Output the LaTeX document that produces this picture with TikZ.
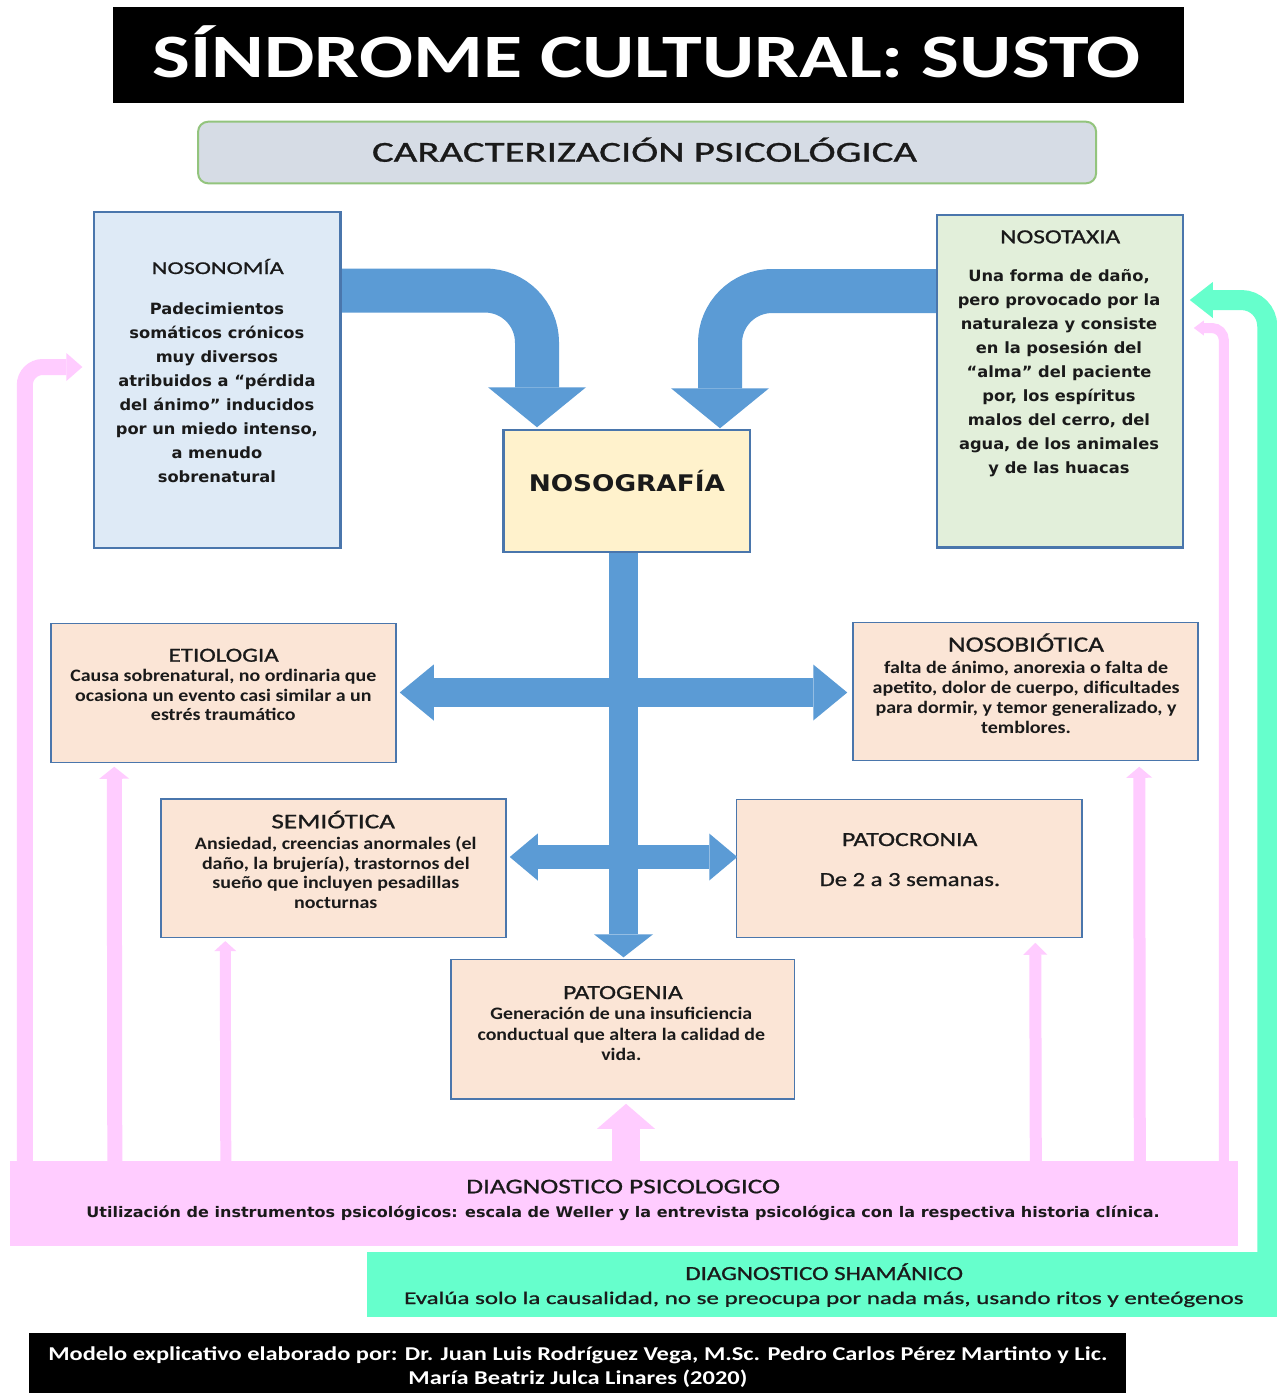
\documentclass[tikz,border=0pt]{standalone}
\usepackage{fontspec}
\usepackage{graphicx}
\setmainfont{Carlito}
\newfontfamily\dvs{DejaVu Sans}
\newfontfamily\calm[FakeBold=0.8]{Carlito}
\usetikzlibrary{arrows.meta,calc}
\definecolor{peach}{HTML}{FBE5D6}
\definecolor{lblue}{HTML}{DEEAF6}
\definecolor{lgreen}{HTML}{E2EFDA}
\definecolor{lyellow}{HTML}{FFF2CC}
\definecolor{boxline}{HTML}{4A76AC}
\definecolor{subfill}{HTML}{D6DCE5}
\definecolor{subline}{HTML}{93C47D}
\definecolor{arrblue}{HTML}{5B9BD5}
\definecolor{pinkc}{HTML}{FFCCFF}
\definecolor{greenc}{HTML}{66FFCC}
\definecolor{txt}{HTML}{1A1A1A}
\newcommand\fitw[2]{\resizebox{#1}{\height}{#2}}
\begin{document}
\begin{tikzpicture}[x=1pt,y=-1pt,
  boxs/.style={draw=boxline,line width=1.5pt,inner sep=0pt},
  hd/.style={inner sep=0pt,text=txt,anchor=base,font=\calm\fontsize{#1}{24}\selectfont},
  hd/.default=20,
  bodyc/.style={inner sep=0pt,text=txt,anchor=north,font=\bfseries\fontsize{17.5}{#1}\selectfont},
  bodyd/.style={inner sep=0pt,text=txt,anchor=north,font=\dvs\bfseries\fontsize{15.5}{24}\selectfont},
  bluearr/.style={draw=arrblue},
  pk/.style={draw=pinkc},
  gr/.style={draw=greenc},
]
\useasboundingbox (0,0) rectangle (1277,1393);
\fill[white] (0,0) rectangle (1277,1393);

% title and subtitle
\node[fill=black,inner sep=0pt,minimum width=1071pt,minimum height=96pt] (title) at (648.5,55.3) {};
\node[inner sep=0pt,text=white,anchor=base,font=\bfseries\fontsize{61.7}{70}\selectfont] (titleT) at (646.5,77) {\fitw{988pt}{SÍNDROME CULTURAL: SUSTO}};
\node[fill=subfill,draw=subline,line width=2pt,rounded corners=10pt,inner sep=0pt,minimum width=898pt,minimum height=61.6pt] (sub) at (647.1,152.5) {};
\node[inner sep=0pt,text=txt,anchor=base,font=\calm\fontsize{29}{34}\selectfont] (subT) at (644.5,161.7) {\fitw{545pt}{CARACTERIZACIÓN PSICOLÓGICA}};

% boxes
\node[boxs,fill=lblue,minimum width=246pt,minimum height=335pt] (nosonomia) at (217,379.8) {};
\node[boxs,fill=lgreen,minimum width=245.3pt,minimum height=332pt] (nosotaxia) at (1060.2,381) {};
\node[boxs,fill=lyellow,minimum width=245.5pt,minimum height=121pt] (nosog) at (626.5,491.2) {};
\node[boxs,fill=peach,minimum width=345pt,minimum height=139.4pt] (etio) at (223.5,693) {};
\node[boxs,fill=peach,minimum width=345pt,minimum height=138.4pt] (nosobio) at (1025.5,691.5) {};
\node[boxs,fill=peach,minimum width=345pt,minimum height=138.3pt] (semi) at (333.5,868.2) {};
\node[boxs,fill=peach,minimum width=345.2pt,minimum height=138pt] (patocr) at (909.3,868.3) {};
\node[boxs,fill=peach,minimum width=343.5pt,minimum height=139.7pt] (patog) at (622.8,1029.2) {};

% blue block arrows
\draw[bluearr,line width=44pt,rounded corners=52pt,-{Triangle[length=40pt,width=98pt,line width=0pt]}]
  ($(nosonomia.east)+(0,-89.3)$) -| ($(nosog.north)+(-89.5,-2.7)$);
\draw[bluearr,line width=44pt,rounded corners=52pt,-{Triangle[length=40pt,width=98pt,line width=0pt]}]
  ($(nosotaxia.west)+(0,-90)$) -| ($(nosog.north)+(93.5,-1.7)$);
\draw[bluearr,line width=29pt,-{Triangle[length=23pt,width=59pt,line width=0pt]}]
  ($(nosog.south)+(-3,0.8)$) -- ($(patog.north)+(0.7,-1.3)$);
\draw[bluearr,line width=29pt,{Triangle[length=34pt,width=56pt,line width=0pt]}-{Triangle[length=34pt,width=56pt,line width=0pt]}]
  ($(etio.east)+(3,-0.5)$) -- ($(nosobio.west)+(-5,1)$);
\draw[bluearr,line width=24pt,{Triangle[length=28pt,width=47pt,line width=0pt]}-{Triangle[length=28pt,width=47pt,line width=0pt]}]
  ($(semi.east)+(3,-11.2)$) -- ($(patocr.west)+(1.3,-11.3)$);

% pink and green boxes
\node[fill=pinkc,inner sep=0pt,minimum width=1228pt,minimum height=84.7pt] (diag) at (624,1203.3) {};
\node[fill=greenc,inner sep=0pt,minimum width=909.7pt,minimum height=64.4pt] (gbox) at (822.2,1284.5) {};

% pink arrows
\draw[pk,line width=16pt,rounded corners=18pt,-{Triangle[length=16pt,width=28pt,line width=0pt]}]
  ($(diag.north west)+(15,1)$) |- ($(nosonomia.west)+(-10.9,-12.8)$);
\draw[pk,line width=15pt,-{Triangle[length=12pt,width=30pt,line width=0pt]}]
  ($(diag.north west)+(105,1)$) -- ($(etio.south west)+(64,3.3)$);
\draw[pk,line width=11pt,-{Triangle[length=10pt,width=22pt,line width=0pt]}]
  ($(diag.north west)+(216,1)$) -- ($(semi.south west)+(65,3)$);
\draw[pk,line width=28pt,-{Triangle[length=25pt,width=58pt,line width=0pt]}]
  ($(diag.north)+(2,1)$) -- ($(patog.south)+(3.2,4)$);
\draw[pk,line width=12pt,-{Triangle[length=12pt,width=24pt,line width=0pt]}]
  ($(diag.north west)+(1026,1)$) -- ($(patocr.south west)+(299.3,4.7)$);
\draw[pk,line width=12pt,-{Triangle[length=11pt,width=26pt,line width=0pt]}]
  ($(diag.north west)+(1130,1)$) -- ($(nosobio.south west)+(287,5.3)$);
\draw[pk,line width=10pt,rounded corners=12pt,-{Triangle[length=10pt,width=15pt,line width=0pt]}]
  ($(diag.north west)+(1214,1)$) |- ($(nosotaxia.east)+(10.2,-53)$);
% green arrow
\draw[gr,line width=20pt,rounded corners=26pt,-{Triangle[length=23pt,width=36pt,line width=0pt]}]
  ($(gbox.north east)+(-10,4.7)$) |- ($(nosotaxia.east)+(6.2,-81)$);

% redraw box borders on top of arrow ends
\draw[boxline,line width=1.5pt] (nosonomia.north west) rectangle (nosonomia.south east);
\draw[boxline,line width=1.5pt] (nosotaxia.north west) rectangle (nosotaxia.south east);
\draw[boxline,line width=1.5pt] (nosog.north west) rectangle (nosog.south east);

% footer
\node[fill=black,inner sep=0pt,minimum width=1096.4pt,minimum height=59.7pt] (foot) at (577.6,1363.2) {};

% texts
\node[hd=18] (nosonomiaH) at (217.8,274) {\fitw{132pt}{NOSONOMÍA}};
\node[bodyd] (nosonomiaB) at (216.9,297.2) {\fitw{202pt}{\begin{tabular}{@{}c@{}}Padecimientos\\somáticos crónicos\\muy diversos\\atribuidos a “pérdida\\del ánimo” inducidos\\por un miedo intenso,\\a menudo\\sobrenatural\end{tabular}}};

\node[hd=20] (nosotaxiaH) at (1060.2,243.3) {\fitw{120pt}{NOSOTAXIA}};
\node[bodyd] (nosotaxiaB) at (1059,264.9) {\fitw{202.5pt}{\begin{tabular}{@{}c@{}}Una forma de daño,\\pero provocado por la\\naturaleza y consiste\\en la posesión del\\“alma” del paciente\\por, los espíritus\\malos del cerro, del\\agua, de los animales\\y de las huacas\end{tabular}}};

\node[inner sep=0pt,text=txt,anchor=base,font=\dvs\bfseries\fontsize{22.9}{26}\selectfont] (nosogT) at (626.9,491.7) {\fitw{196.3pt}{NOSOGRAFÍA}};

\node[hd=20] (etioH) at (223.7,661.7) {\fitw{110pt}{ETIOLOGIA}};
\node[bodyc=19.5] (etioB) at (223.3,668) {\fitw{306pt}{\begin{tabular}{@{}c@{}}Causa sobrenatural, no ordinaria que\\ocasiona un evento casi similar a un\\estrés traumático\end{tabular}}};

\node[hd=22] (nosobioH) at (1026,651.7) {\fitw{156pt}{NOSOBIÓTICA}};
\node[bodyc=20] (nosobioB) at (1026.1,659.3) {\fitw{307pt}{\begin{tabular}{@{}c@{}}falta de ánimo, anorexia o falta de\\apetito, dolor de cuerpo, dificultades\\para dormir, y temor generalizado, y\\temblores.\end{tabular}}};

\node[hd=21] (semiH) at (333.2,828.3) {\fitw{123.6pt}{SEMIÓTICA}};
\node[bodyc=19.7] (semiB) at (335.8,835.5) {\fitw{281.6pt}{\begin{tabular}{@{}c@{}}Ansiedad, creencias anormales (el\\daño, la brujería), trastornos del\\sueño que incluyen pesadillas\\nocturnas\end{tabular}}};

\node[hd=20] (patocrH) at (909.7,846) {\fitw{135.4pt}{PATOCRONIA}};
\node[hd=20] (patocrB) at (909.9,886) {\fitw{180.5pt}{De 2 a 3 semanas.}};

\node[hd=20] (patogH) at (622.9,999) {\fitw{119.7pt}{PATOGENIA}};
\node[bodyc=20.7] (patogB) at (621.3,1004.8) {\fitw{287.5pt}{\begin{tabular}{@{}c@{}}Generación de una insuficiencia\\conductual que altera la calidad de\\vida.\end{tabular}}};

\node[hd=21] (diagH) at (623.2,1193.3) {\fitw{313.7pt}{DIAGNOSTICO PSICOLOGICO}};
\node[inner sep=0pt,text=txt,anchor=base,font=\dvs\bfseries\fontsize{14.6}{18}\selectfont] (diagB) at (623,1217.3) {\fitw{1073pt}{Utilización de instrumentos psicológicos: escala de Weller y la entrevista psicológica con la respectiva historia clínica.}};

\node[hd=20] (gboxH) at (824.2,1280) {\fitw{277.6pt}{DIAGNOSTICO SHAMÁNICO}};
\node[hd=17.9] (gboxB) at (823.9,1304) {\fitw{839.5pt}{Evalúa solo la causalidad, no se preocupa por nada más, usando ritos y enteógenos}};

\node[inner sep=0pt,text=white,anchor=north,font=\bfseries\fontsize{19.6}{24}\selectfont] (footT) at (577.9,1343.9) {\fitw{1059pt}{\begin{tabular}{@{}c@{}}Modelo explicativo elaborado por: Dr. Juan Luis Rodríguez Vega, M.Sc. Pedro Carlos Pérez Martinto y Lic.\\María Beatriz Julca Linares (2020)\end{tabular}}};
\end{tikzpicture}
\end{document}
